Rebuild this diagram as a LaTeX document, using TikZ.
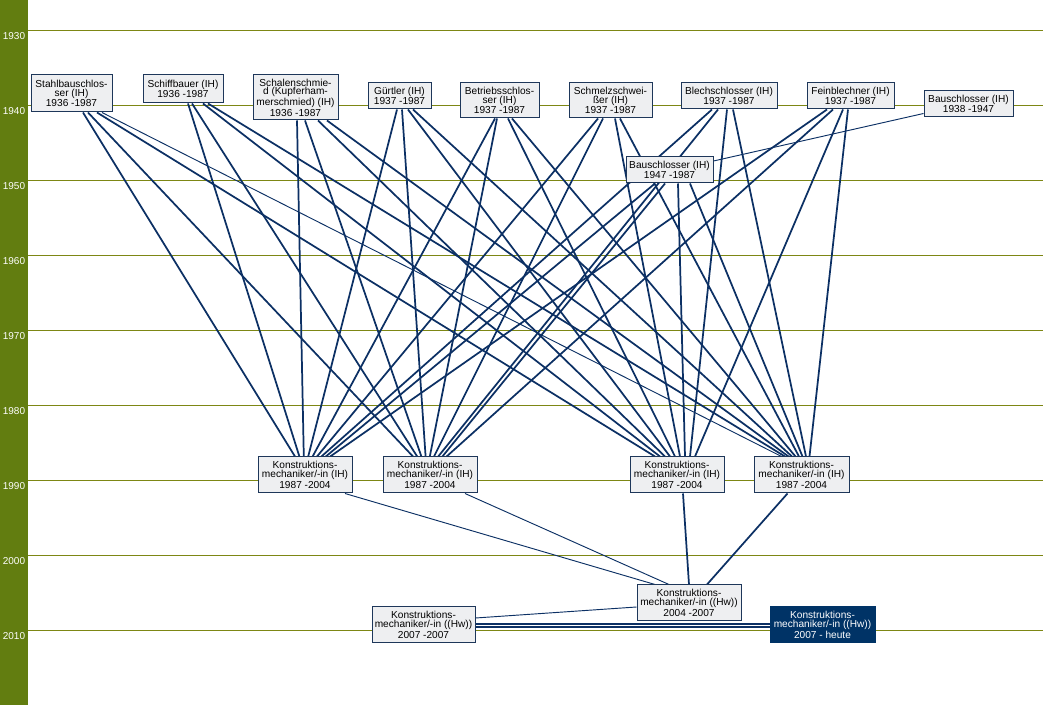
\documentclass[tikz,border=0pt]{standalone}
\usepackage{fontspec}
\setmainfont{Liberation Sans}
\usetikzlibrary{calc,backgrounds}
\definecolor{strip}{RGB}{98,125,16}
\definecolor{gridc}{RGB}{125,135,20}
\definecolor{navy}{RGB}{12,48,100}
\definecolor{boxfill}{RGB}{238,239,241}
\definecolor{boxline}{RGB}{30,55,90}
\definecolor{darkbox}{RGB}{0,51,102}
\begin{document}
\begin{tikzpicture}[x=0.75pt,y=-0.75pt,
  box/.style={draw=boxline, line width=0.75pt, fill=boxfill, inner sep=0pt, align=center,
    font=\fontsize{7.6}{6.6}\selectfont, text=black},
  sz/.style 2 args={minimum width=#1*0.75pt, minimum height=#2*0.75pt},
  link/.style={draw=navy, line width=1.3pt},
  thinlink/.style={draw=navy, line width=0.7pt},
  yearlbl/.style={text=white, font=\fontsize{7.5}{9}\selectfont, inner sep=0pt},
  gridline/.style={draw=gridc, line width=0.75pt}]
\useasboundingbox (0,0) rectangle (1043,705);
\fill[strip] (0,0) rectangle (28,705);
\foreach \yr in {1930,1940,...,2010}{
  \node[yearlbl] (y\yr) at (14,{36+7.5*(\yr-1930)}) {\yr};
}

% top row
\node[box, sz={81}{37}] (A) at (71.5,93.5) {Stahlbauschlos-\\ser (IH)\\1936 -1987};
\node[box, sz={80}{28}] (B) at (183,89) {Schiffbauer (IH)\\1936 -1987};
\node[box, sz={85}{45}] (C) at (295.5,97.5) {Schalenschmie-\\d (Kupferham-\\merschmied) (IH)\\1936 -1987};
\node[box, sz={63}{26}] (D) at (399.5,96) {Gürtler (IH)\\1937 -1987};
\node[box, sz={79}{35}] (E) at (499.5,100.5) {Betriebsschlos-\\ser (IH)\\1937 -1987};
\node[box, sz={83}{35}] (F) at (610.5,100.5) {Schmelzschwei-\\ßer (IH)\\1937 -1987};
\node[box, sz={96}{26}] (G) at (729,96) {Blechschlosser (IH)\\1937 -1987};
\node[box, sz={87}{26}] (H) at (850.5,96) {Feinblechner (IH)\\1937 -1987};
\node[box, sz={89}{26}] (I) at (968.5,104) {Bauschlosser (IH)\\1938 -1947};
\node[box, sz={87}{26}] (J) at (669.5,170) {Bauschlosser (IH)\\1947 -1987};
% middle row
\node[box, sz={94}{36}] (K1) at (305,475) {Konstruktions-\\mechaniker/-in (IH)\\1987 -2004};
\node[box, sz={94}{36}] (K2) at (430,475) {Konstruktions-\\mechaniker/-in (IH)\\1987 -2004};
\node[box, sz={94}{36}] (K3) at (677,475) {Konstruktions-\\mechaniker/-in (IH)\\1987 -2004};
\node[box, sz={95}{36}] (K4) at (801.5,475) {Konstruktions-\\mechaniker/-in (IH)\\1987 -2004};
% bottom
\node[box, sz={104}{36}] (L) at (689,603) {Konstruktions-\\mechaniker/-in ((Hw))\\2004 -2007};
\node[box, sz={103}{36}] (M) at (423.5,625) {Konstruktions-\\mechaniker/-in ((Hw))\\2007 -2007};
\node[box, sz={105}{36}, fill=darkbox, draw=darkbox, text=white] (N) at (822.5,625) {Konstruktions-\\mechaniker/-in ((Hw))\\2007 - heute};

\begin{scope}[on background layer]
\fill[white] (28,0) rectangle (1043,705);
\foreach \yr in {1930,1940,...,2010}{
  \draw[gridline] (28,{31+7.5*(\yr-1930)}) -- (1043,{31+7.5*(\yr-1930)});
}
\foreach \s/\i/\j/\a/\b/\c/\d/\w in {
  A/0/0/11.5/16.5/25.5/30.5/thinlink,
  B/1/1/5/9/20/25/link,
  C/2/2/1.5/9.5/22.5/31.5/link,
  D/3/3/-2.5/2.5/8.5/13.5/link,
  E/4/4/-4.5/-2.5/8.5/12.5/link,
  F/5/5/-12.5/-7.5/4.5/9.5/link,
  G/6/7/-17/-11/-2/4/link,
  J/7/6/-14.5/-4.5/8.5/20.5/link,
  H/8/8/-23.5/-17.5/-7.5/-2.5/link}{
  \draw[link] ($(\s.south)+(\a,0)$) -- ($(K1.north)+({-10+4.4*\i},0)$);
  \draw[link] ($(\s.south)+(\b,0)$) -- ($(K2.north)+({-17+4.2*\i},0)$);
  \draw[link] ($(\s.south)+(\c,0)$) -- ($(K3.north)+({-22+5*\j},0)$);
  \draw[\w] ($(\s.south)+(\d,0)$) -- ($(K4.north)+({-20+3.5*\j},0)$);
}
\draw[thinlink] ($(I.south west)+(0,-4)$) -- ($(J.east)+(0,-9)$);
\draw[thinlink] ($(K1.south)+(40,0)$) -- ($(L.north)+(-34,0)$);
\draw[thinlink] ($(K2.south)+(35,0)$) -- ($(L.north)+(-20,0)$);
\draw[link] ($(K3.south)+(6,0)$) -- ($(L.north)+(0,0)$);
\draw[link] ($(K4.south)+(-14,0)$) -- ($(L.north)+(18,0)$);
\draw[thinlink] ($(M.east)+(0,-7)$) -- ($(L.west)+(0,4)$);
\draw[link] ($(M.east)+(0,-1)$) -- ($(N.west)+(0,-1)$);
\draw[link] ($(M.east)+(0,2)$) -- ($(N.west)+(0,2)$);
\end{scope}
\end{tikzpicture}
\end{document}
